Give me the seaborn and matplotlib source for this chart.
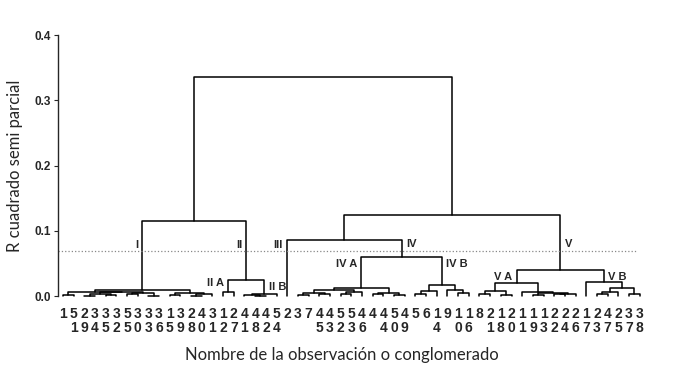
import pandas as pd
import seaborn as sns
import matplotlib.pyplot as plt
from matplotlib.transforms import offset_copy

# leaf order (observation numbers, left to right)
leaf_labels = [1, 51, 29, 34, 35, 32, 55, 30, 33, 36, 15, 39, 28, 40, 31,
               12, 27, 41, 48, 42, 54, 2, 3, 7, 45, 43, 52, 53, 46, 4, 44,
               50, 49, 5, 6, 14, 9, 10, 16, 8, 21, 18, 20, 11, 19, 13, 22,
               24, 26, 17, 23, 47, 25, 37, 38]

# merges: name, left child, right child, semi-partial R squared
# (ints are leaf positions, strings are earlier merges)
merge_names = ["I1", "I2", "I3", "I4", "I5", "I6", "I7", "I8", "I9", "I10",
               "I11", "I12", "I13", "I",
               "IIA", "IIb1", "IIb2", "IIB", "II", "I+II",
               "a1", "a2", "a3", "a4", "a5", "a6", "a7", "a8", "a9", "IVA",
               "b1", "b2", "b3", "b4", "IVB", "IV", "III+IV",
               "c1", "c2", "c3", "c4", "c5", "c6", "c7", "c8", "VA",
               "d1", "d2", "d3", "d4", "VB", "V", "III-V", "root"]
merge_left = [0, 2, 4, "I2", 6, 8, "I5", "I4", "I1", 10,
              12, "I11", "I10", "I9",
              15, 18, 17, "IIb2", "IIA", "I",
              22, 24, "a1", 26, "a4", "a3", 29, 31, "a7", "a6",
              33, "b1", 37, 36, "b2", "IVA", 21,
              39, 41, "c1", 44, 46, "c5", "c4", 43, "c3",
              50, "d1", 53, "d2", 49, "VA", "III+IV", "I+II"]
merge_right = [1, 3, 5, "I3", 7, 9, "I6", "I7", "I8", 11,
               13, 14, "I12", "I13",
               16, 19, "IIb1", 20, "IIB", "II",
               23, 25, "a2", 27, 28, "a5", 30, 32, "a8", "a9",
               34, 35, 38, "b3", "b4", "IVB", "IV",
               40, 42, "c2", 45, 47, 48, "c6", "c7", "c8",
               51, 52, 54, "d3", "d4", "VB", "V", "III-V"]
merge_height = [0.002, 0.001, 0.002, 0.004, 0.003, 0.001, 0.005, 0.006, 0.007, 0.002,
                0.001, 0.003, 0.005, 0.009,
                0.006, 0.001, 0.002, 0.003, 0.025, 0.115,
                0.002, 0.003, 0.005, 0.004, 0.006, 0.010, 0.003, 0.002, 0.005, 0.013,
                0.004, 0.008, 0.005, 0.009, 0.017, 0.060, 0.086,
                0.003, 0.002, 0.008, 0.002, 0.003, 0.004, 0.005, 0.007, 0.020,
                0.004, 0.007, 0.003, 0.012, 0.022, 0.040, 0.124, 0.335]

cut_height = 0.069

# cluster tags
tag_nodes = ["I", "II", 21, "IV", "V", "IVA", "IVB", "VA", "VB", "IIA", "IIB"]
tag_texts = ["I", "II", "III", "IV", "V", "IV A", "IV B", "V A", "V B", "II A", "II B"]
tag_side = ["l", "l", "l", "r", "r", "l", "r", "l", "r", "l", "r"]
tag_y = [0.078, 0.078, 0.078, 0.080, 0.080, 0.050, 0.050, 0.029, 0.029, 0.020, 0.014]

# layout of the tree
pos = {i: (float(i), 0.0) for i in range(len(leaf_labels))}
rows = []
for k, name in enumerate(merge_names):
    xa, ya = pos[merge_left[k]]
    xb, yb = pos[merge_right[k]]
    h = merge_height[k]
    for px, py in [(xa, ya), (xa, h), (xb, h), (xb, yb)]:
        rows.append({"seg": k, "x": px, "y": py})
    pos[name] = ((xa + xb) / 2, h)
seg_df = pd.DataFrame(rows)

sns.set_style("ticks")
plt.rcParams['font.family'] = ['Liberation Sans', 'DejaVu Sans']

fig = plt.figure(figsize=(6.8, 3.73), dpi=100)
ax = fig.add_axes([0.0846, 0.206, 0.864, 0.700])

sns.lineplot(data=seg_df, x="x", y="y", units="seg", estimator=None,
             sort=False, color="black", lw=1.1, ax=ax, clip_on=False)

ax.axhline(cut_height, xmin=0, xmax=0.985, color="#888888", ls=":", lw=0.9)

for node, txt, side, ty in zip(tag_nodes, tag_texts, tag_side, tag_y):
    nx = pos[node][0]
    if side == "l":
        tr = offset_copy(ax.transData, fig=fig, x=-3, y=0, units="points")
        ax.text(nx, ty, txt, ha="right", va="center", transform=tr,
                fontsize=8, fontweight="bold")
    else:
        tr = offset_copy(ax.transData, fig=fig, x=3, y=0, units="points")
        ax.text(nx, ty, txt, ha="left", va="center", transform=tr,
                fontsize=8, fontweight="bold")

# vertical leaf labels: tens digit on top, units below
tick_txt = []
for lab in leaf_labels:
    s = str(lab)
    tick_txt.append(s[0] + "\n" + (s[1] if len(s) > 1 else " "))
ax.set_xticks(range(len(leaf_labels)))
ax.set_xticklabels(tick_txt, fontsize=10, fontweight="bold", linespacing=0.95)
ax.tick_params(axis="x", length=0, pad=8)

ax.set_yticks([0.0, 0.1, 0.2, 0.3, 0.4])
ax.set_yticklabels(["0.0", "0.1", "0.2", "0.3", "0.4"], fontsize=8.5, fontweight="bold")
ax.tick_params(axis="y", length=3, width=0.8, pad=2)

ax.set_xlim(-0.5, 54.5)
ax.set_ylim(0, 0.4)
sns.despine(ax=ax, bottom=True)
ax.spines["left"].set_linewidth(1.0)

ax.set_ylabel("R cuadrado semi parcial", fontsize=12, family=["Lato", "DejaVu Sans"])
ax.set_xlabel("Nombre de la observación o conglomerado", fontsize=12,
              family=["Lato", "DejaVu Sans"])
ax.yaxis.set_label_coords(-0.058, 0.5)
ax.xaxis.set_label_coords(0.484, -0.195)

fig.savefig("out.png", dpi=100)
